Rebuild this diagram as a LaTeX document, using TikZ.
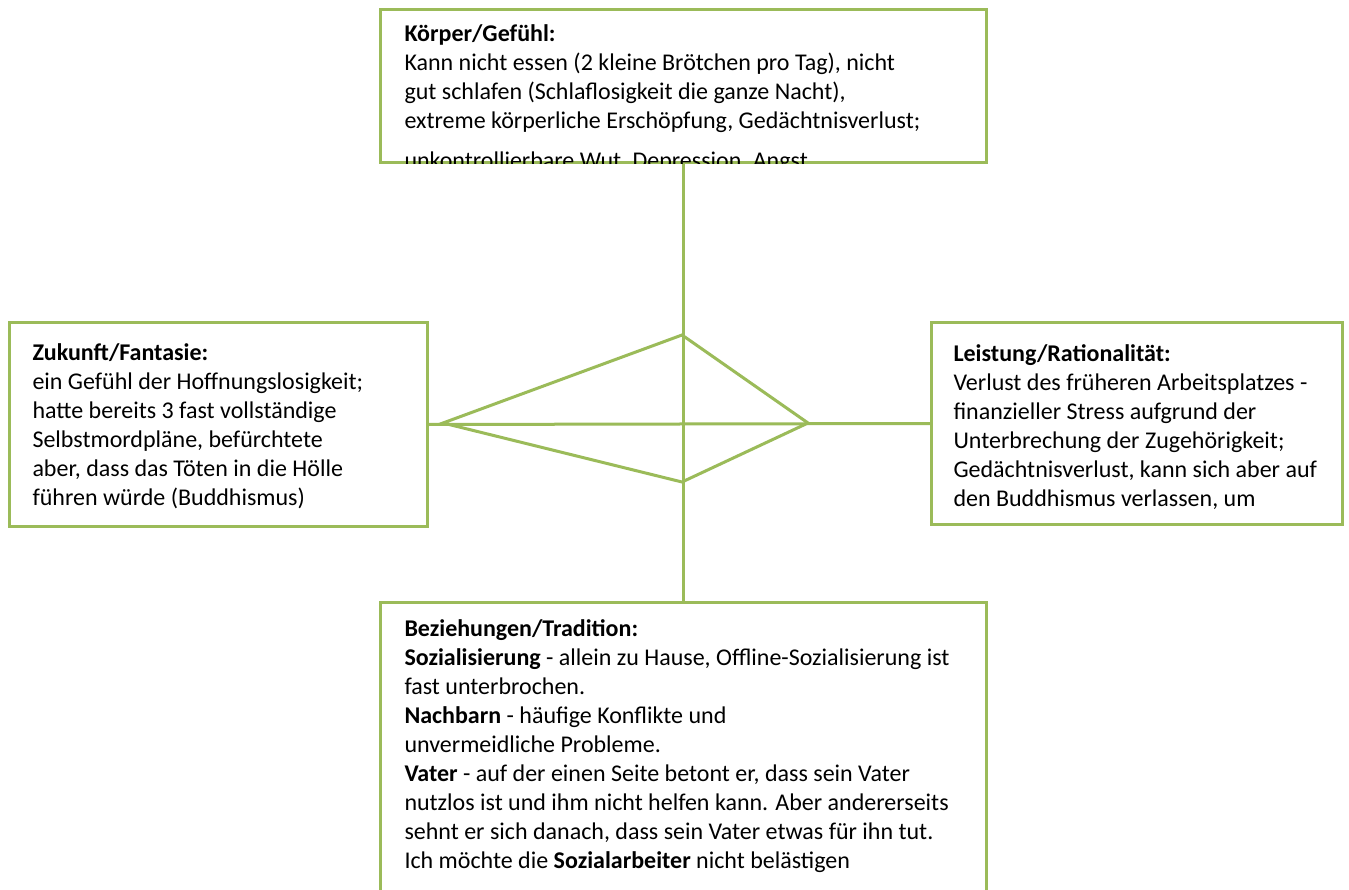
\documentclass[tikz,border=0pt]{standalone}
\usepackage{fontspec}
\setmainfont{Carlito}
\usepackage{xcolor}
\usepackage{tikz}
\usetikzlibrary{calc}

\definecolor{leaf}{HTML}{9BBB59}

\begin{document}
\begin{tikzpicture}[x=1pt,y=-1pt,line width=3pt]
  \tikzstyle{panel} = [draw=leaf,anchor=north west,inner sep=0pt]
  % base of a multi-line node is its last line
  \tikzstyle{txt} = [anchor=base west,inner sep=0pt,align=left,
                     font=\fontsize{24}{29}\selectfont]
  \tikzstyle{wire} = [draw=leaf,line width=3pt]
  %
  \clip (0,0) rectangle (1349,890);
  \fill[white] (0,0) rectangle (1349,890);

  % Four boxes.
  \node[panel,minimum width=606,minimum height=153] (koerper) at (379,8) {};
  \node[panel,minimum width=418,minimum height=204] (zukunft) at (8,321) {};
  \node[panel,minimum width=411,minimum height=202] (leistung) at (930,321) {};
  \node[panel,minimum width=606,minimum height=330] (beziehung) at (379,601) {};

  % Texts, cut off at the box border.
  \begin{scope}
    \clip (koerper.south west) rectangle (koerper.north east);
    \node[txt] (koerpertext) at (403,169) {%
      \textbf{Körper/Gefühl:}\\
      Kann nicht essen (2 kleine Brötchen pro Tag), nicht\\
      gut schlafen (Schlaflosigkeit die ganze Nacht),\\
      extreme körperliche Erschöpfung, Gedächtnisverlust;\\[11pt]
      unkontrollierbare Wut, Depression, Angst};
  \end{scope}
  \begin{scope}
    \clip (zukunft.south west) rectangle (zukunft.north east);
    \node[txt] (zukunfttext) at (31,505) {%
      \textbf{Zukunft/Fantasie:}\\
      ein Gefühl der Hoffnungslosigkeit;\\
      hatte bereits 3 fast vollständige\\
      Selbstmordpläne, befürchtete\\
      aber, dass das Töten in die Hölle\\
      führen würde (Buddhismus)};
  \end{scope}
  \begin{scope}
    \clip (leistung.south west) rectangle (leistung.north east);
    \node[txt] (leistungtext) at (952,506) {%
      \textbf{Leistung/Rationalität:}\\
      Verlust des früheren Arbeitsplatzes -\\
      finanzieller Stress aufgrund der\\
      Unterbrechung der Zugehörigkeit;\\
      Gedächtnisverlust, kann sich aber auf\\
      den Buddhismus verlassen, um};
  \end{scope}
  \begin{scope}
    \clip (beziehung.south west) rectangle (beziehung.north east);
    \node[txt] (beziehungtext) at (403,868) {%
      \textbf{Beziehungen/Tradition:}\\
      \textbf{Sozialisierung} - allein zu Hause, Offline-Sozialisierung ist\\
      fast unterbrochen.\\
      \textbf{Nachbarn} - häufige Konflikte und\\
      unvermeidliche Probleme.\\
      \textbf{Vater} - auf der einen Seite betont er, dass sein Vater\\
      nutzlos ist und ihm nicht helfen kann. Aber andererseits\\
      sehnt er sich danach, dass sein Vater etwas für ihn tut.\\
      Ich möchte die \textbf{Sozialarbeiter} nicht belästigen};
  \end{scope}

  % Diamond corners.
  \coordinate (dtop) at (682,335);
  \coordinate (dbottom) at (682,482);
  \coordinate (dleft) at (443,423);
  \coordinate (dright) at (808,423);

  % Draw lines.
  \draw[wire] (koerper.south) -- (beziehung.north);
  \draw[wire] (zukunft.east) -- (leistung.west);
  \draw[wire,line join=miter] (dleft) -- (dtop) -- (dright) -- (dbottom) -- cycle;
\end{tikzpicture}
\end{document}
